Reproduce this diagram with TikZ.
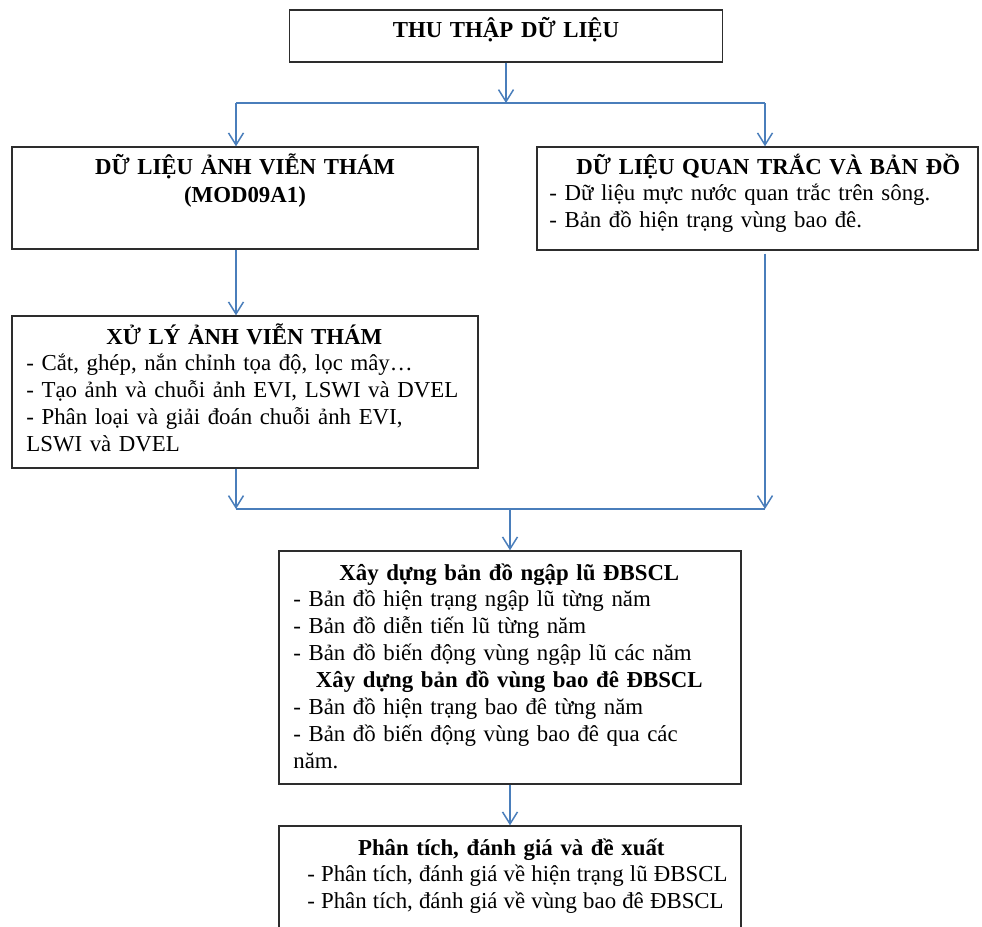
\documentclass[tikz,border=0pt]{standalone}
\usepackage{fontspec}
\setmainfont{Liberation Serif}
\usepackage{xcolor}
\usepackage{tikz}
\usetikzlibrary{
  arrows.meta,
  calc
}
\definecolor{linkblue}{RGB}{74,126,187}
\definecolor{boxline}{RGB}{45,45,45}

\begin{document}
\begin{tikzpicture}[
  x=0.02cm,y=-0.02cm,
  box/.style={rectangle,draw=boxline,line width=0.8pt,inner sep=0pt},
  txt/.style={anchor=base west,inner sep=0pt,align=left,font=\fontsize{13}{15.3}\selectfont},
  hd/.style={anchor=base,inner sep=0pt,align=center,text width=9cm,font=\fontsize{13}{16.5}\selectfont\bfseries},
  a/.style={-{Straight Barb[length=2.4mm,width=3mm]},draw=linkblue,line width=0.85pt},
  l/.style={draw=linkblue,line width=0.85pt}
]
\clip (0,0) rectangle (982,926);
\node[box,minimum width=8.66cm,minimum height=1.04cm] (collect) at (506,36) {};
\node[box,minimum width=9.32cm,minimum height=2.04cm] (rsdata) at (245,198) {};
\node[box,minimum width=8.82cm,minimum height=2.06cm] (obsdata) at (757.5,198.5) {};
\node[box,minimum width=9.32cm,minimum height=3.04cm] (rsproc) at (245,392) {};
\node[box,minimum width=9.24cm,minimum height=4.66cm] (floodmap) at (510,667.5) {};
\node[box,minimum width=9.24cm,minimum height=3.28cm] (assess) at (510,908) {};
% texts
\node[hd] (collecttxt) at (506,38) {THU THẬP DỮ LIỆU};
\node[hd] (rsdatatxt) at (245,174) {DỮ LIỆU ẢNH VIỄN THÁM\\(MOD09A1)};
\node[txt,text width=8.76cm] (obsdatatxt) at (549,174) {\makebox[\linewidth]{\bfseries DỮ LIỆU QUAN TRẮC VÀ BẢN ĐỒ}\\
- Dữ liệu mực nước quan trắc trên sông.\\
- Bản đồ hiện trạng vùng bao đê.};
\node[txt,text width=8.72cm] (rsproctxt) at (26,344) {\makebox[\linewidth]{\bfseries XỬ LÝ ẢNH VIỄN THÁM}\\
- Cắt, ghép, nắn chỉnh tọa độ, lọc mây…\\
- Tạo ảnh và chuỗi ảnh EVI, LSWI và DVEL\\
- Phân loại và giải đoán chuỗi ảnh EVI,\\
LSWI và DVEL};
\node[txt,text width=8.64cm] (floodmaptxt) at (293,580) {\makebox[\linewidth]{\bfseries Xây dựng bản đồ ngập lũ ĐBSCL}\\
- Bản đồ hiện trạng ngập lũ từng năm\\
- Bản đồ diễn tiến lũ từng năm\\
- Bản đồ biến động vùng ngập lũ các năm\\
\makebox[\linewidth]{\bfseries Xây dựng bản đồ vùng bao đê ĐBSCL}\\
- Bản đồ hiện trạng bao đê từng năm\\
- Bản đồ biến động vùng bao đê qua các\\
năm.};
\node[txt,text width=8.7cm] (assesstxt) at (307,855) {\makebox[8.16cm]{\bfseries Phân tích, đánh giá và đề xuất}\\
\spaceskip=3.5pt- Phân tích, đánh giá về hiện trạng lũ ĐBSCL\\
- Phân tích, đánh giá về vùng bao đê ĐBSCL};
% connectors
\coordinate (split) at (506,103);
\coordinate (splitL) at (236,103);
\coordinate (splitR) at (765,103);
\coordinate (joinL) at (236,509);
\coordinate (joinR) at (765,509);
\draw[a] (collect.south) -- (split);
\draw[l] (splitL) -- (splitR);
\draw[a] (splitL) -- (splitL |- rsdata.north);
\draw[a] (splitR) -- (splitR |- obsdata.north);
\draw[a] (splitL |- rsdata.south) -- (splitL |- rsproc.north);
\draw[a] (joinL |- rsproc.south) -- (joinL);
\draw[a] ($(joinR |- obsdata.south)+(0,3)$) -- (joinR);
\draw[l] (joinL) -- (joinR);
\draw[a] (floodmap.north |- joinL) -- (floodmap.north);
\draw[a] (floodmap.south) -- (assess.north);
\end{tikzpicture}
\end{document}
